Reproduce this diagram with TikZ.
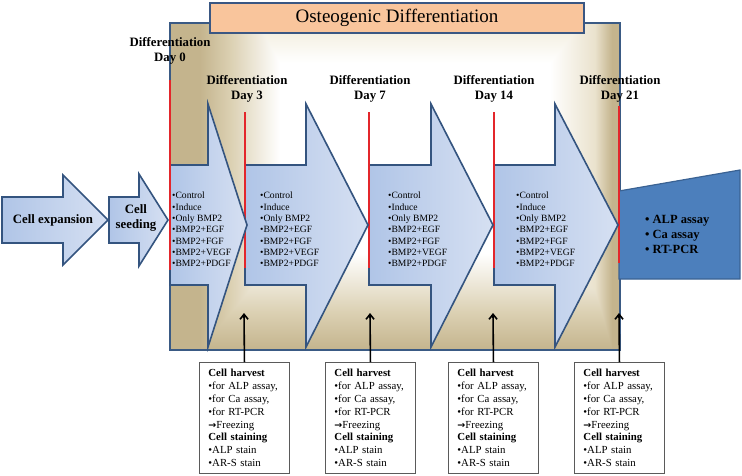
\documentclass[tikz,border=0pt]{standalone}
\usepackage{fontspec}
\setmainfont{Liberation Serif}
\newfontfamily\symfont{DejaVu Sans}
\usetikzlibrary{arrows.meta}
\definecolor{tanD}{HTML}{C4B48D}
\definecolor{tanM}{HTML}{DBD0B2}
\definecolor{tanL}{HTML}{EAE2CD}
\definecolor{creamT}{HTML}{F1EBDA}
\definecolor{beigeB}{HTML}{3A5A84}
\definecolor{titleF}{HTML}{F9C59C}
\definecolor{titleB}{HTML}{3A5783}
\definecolor{arrowL}{HTML}{B0C5E7}
\definecolor{arrowR}{HTML}{D6E0F2}
\definecolor{arrowB}{HTML}{34547F}
\definecolor{redC}{HTML}{E3262B}
\definecolor{trapF}{HTML}{4C7FBC}
\definecolor{trapB}{HTML}{3A6293}
\definecolor{boxB}{HTML}{5A5A5A}
\pgfdeclarehorizontalshading{beigeH}{100bp}{color(0bp)=(tanD); color(25bp)=(tanD); color(28.3bp)=(tanD); color(31.7bp)=(tanM); color(37.2bp)=(white); color(67.2bp)=(white); color(72.2bp)=(tanL); color(74.1bp)=(tanD); color(100bp)=(tanD)}
\pgfdeclareverticalshading{beigeV}{100bp}{color(0bp)=(tanD); color(25bp)=(tanD); color(30.7bp)=(tanM); color(39.8bp)=(white); color(68.9bp)=(white); color(75bp)=(creamT); color(100bp)=(creamT)}
\newcommand{\frz}{{\symfont\fontsize{9.5}{12.8}\selectfont\bfseries →}Freezing}
\begin{document}
\begin{tikzpicture}[x=1pt,y=-1pt,
  bigarrow/.style={draw=arrowB, line width=1.6pt, left color=arrowL, right color=arrowR, line join=miter},
  redline/.style={draw=redC, line width=2.2pt},
  daylabel/.style={font=\fontsize{12.8}{15}\selectfont\bfseries, align=center, inner sep=0pt},
  treat/.style={font=\fontsize{9.6}{11.35}\selectfont, align=left, anchor=north west, inner sep=0pt},
  infobox/.style={draw=boxB, line width=0.9pt, fill=white, font=\fontsize{10.8}{12.8}\selectfont, align=left, text width=72pt, inner xsep=9pt, inner ysep=0pt, minimum height=111pt, anchor=north west},
  harrow/.style={line width=1.6pt, -{Straight Barb[length=5pt,width=8pt]}}
]
\useasboundingbox (0,0) rectangle (742,475);
% beige stage box
\shade[shading=beigeH] (170,23) rectangle (620,350);
\begin{scope}[blend mode=darken]
\shade[shading=beigeV] (170,23) rectangle (620,350);
\end{scope}
\draw[beigeB, line width=1.6pt] (170,23) rectangle (620,350);
% title
\node[draw=titleB, line width=1.6pt, fill=titleF, minimum width=374pt, minimum height=30pt, font=\fontsize{19}{22}\selectfont, inner sep=0pt] (title) at (397,18) {Osteogenic Differentiation};
% pre-steps
\draw[bigarrow] (2,197) -- (63,197) -- (63,175) -- (108,220) -- (63,265) -- (63,243) -- (2,243) -- cycle;
\node[font=\fontsize{12.8}{15}\selectfont\bfseries, inner sep=0pt] (ce) at (53,220) {Cell expansion};
\draw[bigarrow] (109,197) -- (139,197) -- (139,174) -- (168,220) -- (139,266) -- (139,243) -- (109,243) -- cycle;
\node[daylabel] (cs) at (136,218) {Cell\\seeding};
% result trapezoid
\draw[fill=trapF, draw=trapB, line width=1.2pt] (619,191) -- (740,170) -- (740,279) -- (619,279) -- cycle;
\node[font=\fontsize{12.5}{15}\selectfont\bfseries, align=left, anchor=west, inner sep=0pt] (res) at (645,234) {• ALP assay\\• Ca assay\\• RT-PCR};
% stage arrows and red day lines
\draw[redline] (619,106) -- (619,263);
\draw[bigarrow] (494,165) -- (555,165) -- (555,104) -- (618,225) -- (555,347) -- (555,285) -- (494,285) -- cycle;
\draw[redline] (494,112) -- (494,268);
\draw[bigarrow] (369,165) -- (431,165) -- (431,104) -- (493,225) -- (431,347) -- (431,285) -- (369,285) -- cycle;
\draw[redline] (369,112) -- (369,268);
\draw[bigarrow] (245,165) -- (306,165) -- (306,104) -- (368,225) -- (306,347) -- (306,285) -- (245,285) -- cycle;
\draw[redline] (245,112) -- (245,268);
\draw[bigarrow] (170,165) -- (208,165) -- (208,104) -- (247,225) -- (208,347) -- (208,285) -- (170,285) -- cycle;
\draw[redline] (170,80) -- (170,270);
% treatment lists
\node[treat] (l1) at (172,192) {•Control\\•Induce\\•Only BMP2\\•BMP2+EGF\\•BMP2+FGF\\•BMP2+VEGF\\•BMP2+PDGF};
\node[treat] (l2) at (260,192) {•Control\\•Induce\\•Only BMP2\\•BMP2+EGF\\•BMP2+FGF\\•BMP2+VEGF\\•BMP2+PDGF};
\node[treat] (l3) at (388,192) {•Control\\•Induce\\•Only BMP2\\•BMP2+EGF\\•BMP2+FGF\\•BMP2+VEGF\\•BMP2+PDGF};
\node[treat] (l4) at (516,192) {•Control\\•Induce\\•Only BMP2\\•BMP2+EGF\\•BMP2+FGF\\•BMP2+VEGF\\•BMP2+PDGF};
% day labels
\node[daylabel] (d0) at (170,50.5) {Differentiation\\Day 0};
\node[daylabel] (d3) at (247,88.5) {Differentiation\\Day 3};
\node[daylabel] (d7) at (370,88.5) {Differentiation\\Day 7};
\node[daylabel] (d14) at (494,88.5) {Differentiation\\Day 14};
\node[daylabel] (d21) at (620,88.5) {Differentiation\\Day 21};
% harvest boxes
\node[infobox] (b1) at (199,362) {\textbf{Cell harvest}\\•for ALP assay,\\•for Ca assay,\\•for RT-PCR\\\frz\\\textbf{Cell staining}\\•ALP stain\\•AR-S stain};
\node[infobox] (b2) at (325,362) {\textbf{Cell harvest}\\•for ALP assay,\\•for Ca assay,\\•for RT-PCR\\\frz\\\textbf{Cell staining}\\•ALP stain\\•AR-S stain};
\node[infobox] (b3) at (448,362) {\textbf{Cell harvest}\\•for ALP assay,\\•for Ca assay,\\•for RT-PCR\\\frz\\\textbf{Cell staining}\\•ALP stain\\•AR-S stain};
\node[infobox] (b4) at (574,362) {\textbf{Cell harvest}\\•for ALP assay,\\•for Ca assay,\\•for RT-PCR\\\frz\\\textbf{Cell staining}\\•ALP stain\\•AR-S stain};
\coordinate (h1) at (244,313);
\coordinate (h2) at (370,313);
\coordinate (h3) at (493,313);
\coordinate (h4) at (619,313);
\draw[harrow] (b1.north) -- (h1);
\draw[harrow] (b2.north) -- (h2);
\draw[harrow] (b3.north) -- (h3);
\draw[harrow] (b4.north) -- (h4);
\end{tikzpicture}
\end{document}
